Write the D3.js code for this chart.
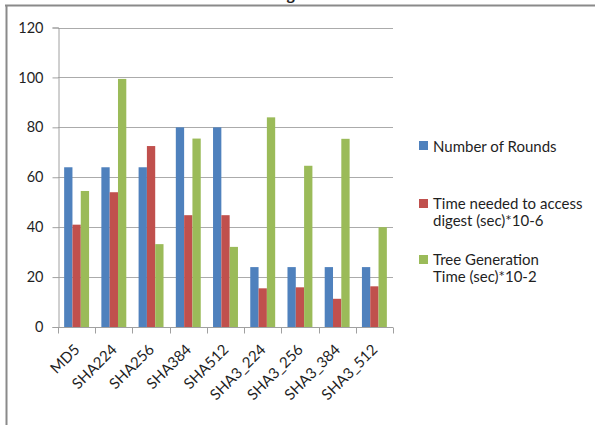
<!DOCTYPE html>
<html>
<head>
<meta charset="utf-8">
<script src="https://cdn.jsdelivr.net/npm/d3@7"></script>
<style>
  html, body { margin: 0; padding: 0; background: #fff; }
  svg { display: block; }
  text { font-family: Lato, "Open Sans", sans-serif; fill: #1f1f1f; }
</style>
</head>
<body>
<svg id="chart" width="595" height="425"></svg>
<script>
// Hash algorithms compared
const categories = ["MD5", "SHA224", "SHA256", "SHA384", "SHA512", "SHA3_224", "SHA3_256", "SHA3_384", "SHA3_512"];
const seriesNames = ["Number of Rounds", "Time needed to access digest (sec)*10-6", "Tree Generation Time (sec)*10-2"];
const legendLines = [["Number of Rounds"], ["Time needed to access", "digest (sec)*10-6"], ["Tree Generation", "Time (sec)*10-2"]];
const rounds = [64, 64, 64, 80, 80, 24, 24, 24, 24];
const accessTime = [41, 54, 72.5, 44.8, 44.8, 15.5, 15.9, 11.3, 16.3];
const treeTime = [54.5, 99.4, 33.2, 75.5, 32.1, 84, 64.6, 75.4, 40];
const yTicks = [0, 20, 40, 60, 80, 100, 120];
const colors = ["#4F81BD", "#C0504D", "#9BBB59"];

const seriesValues = [rounds, accessTime, treeTime];

const svg = d3.select("#chart");

// outer frame (top and left edges)
svg.append("line").attr("x1", 5).attr("x2", 595).attr("y1", 5.5).attr("y2", 5.5)
  .attr("stroke", "#8a8a8a").attr("stroke-width", 2);
svg.append("line").attr("x1", 6.5).attr("x2", 6.5).attr("y1", 5).attr("y2", 425)
  .attr("stroke", "#8a8a8a").attr("stroke-width", 2);

// chart title, mostly above the top edge
svg.append("text").attr("x", 295).attr("y", -0.5).attr("text-anchor", "end")
  .attr("font-size", 16).attr("font-weight", "bold").text("Hashing");

const x = d3.scaleBand().domain(categories).range([58, 393]).paddingInner(0).paddingOuter(0);
const xs = d3.scaleBand().domain(d3.range(3)).range([0, x.bandwidth()]).paddingInner(0).paddingOuter(0.74);
const y = d3.scaleLinear().domain([0, 120]).range([327, 27.5]);

// horizontal gridlines
svg.append("g").selectAll("line").data(yTicks.filter(d => d > 0)).join("line")
  .attr("x1", 58).attr("x2", 393)
  .attr("y1", d => Math.round(y(d)) + 0.5).attr("y2", d => Math.round(y(d)) + 0.5)
  .attr("stroke", "#ababab").attr("stroke-width", 1);

// y axis
const yAxis = svg.append("g").attr("transform", "translate(58.5,0)")
  .call(d3.axisLeft(y).tickValues(yTicks).tickSize(6).tickPadding(9).tickFormat(d3.format("d")));
yAxis.select(".domain").attr("stroke", "#a0a0a0");
yAxis.selectAll(".tick line").attr("stroke", "#a0a0a0");
yAxis.selectAll(".tick text").attr("font-size", 14.5).attr("fill", "#1f1f1f")
  .attr("font-family", "Lato, sans-serif");

// bars
const groups = svg.append("g").selectAll("g").data(categories).join("g")
  .attr("transform", d => `translate(${x(d)},0)`);
groups.selectAll("rect")
  .data((c, i) => seriesValues.map((vals, s) => ({ s, v: vals[i] })))
  .join("rect")
  .attr("x", d => xs(d.s))
  .attr("width", xs.bandwidth())
  .attr("y", d => y(d.v))
  .attr("height", d => y(0) - y(d.v))
  .attr("fill", d => colors[d.s]);

// x axis with ticks at band edges
const xAxisG = svg.append("g").attr("transform", "translate(0,327.5)");
xAxisG.append("line").attr("x1", 58).attr("x2", 393).attr("stroke", "#a0a0a0");
const edges = categories.map(c => x(c)).concat([x.range()[1]]);
xAxisG.selectAll("line.tick").data(edges).join("line").attr("class", "tick")
  .attr("x1", d => Math.round(d) + 0.5).attr("x2", d => Math.round(d) + 0.5)
  .attr("y1", 0).attr("y2", 6).attr("stroke", "#a0a0a0");
xAxisG.selectAll("text").data(categories).join("text")
  .attr("transform", d => `translate(${x(d) + x.bandwidth() / 2 + 4},${23}) rotate(-45)`)
  .attr("text-anchor", "end").attr("font-size", 15).text(d => d);

// legend
const legend = svg.append("g");
const legendY = [141, 198, 254];
legendLines.forEach((lines, i) => {
  const g = legend.append("g").attr("transform", `translate(419,${legendY[i]})`);
  g.append("rect").attr("y", i === 0 ? 0 : 1).attr("width", 9).attr("height", 9).attr("fill", colors[i]);
  lines.forEach((t, j) => {
    g.append("text").attr("x", 14).attr("y", 10.5 + j * 17.5).attr("font-size", 15).text(t);
  });
});
</script>
</body>
</html>
